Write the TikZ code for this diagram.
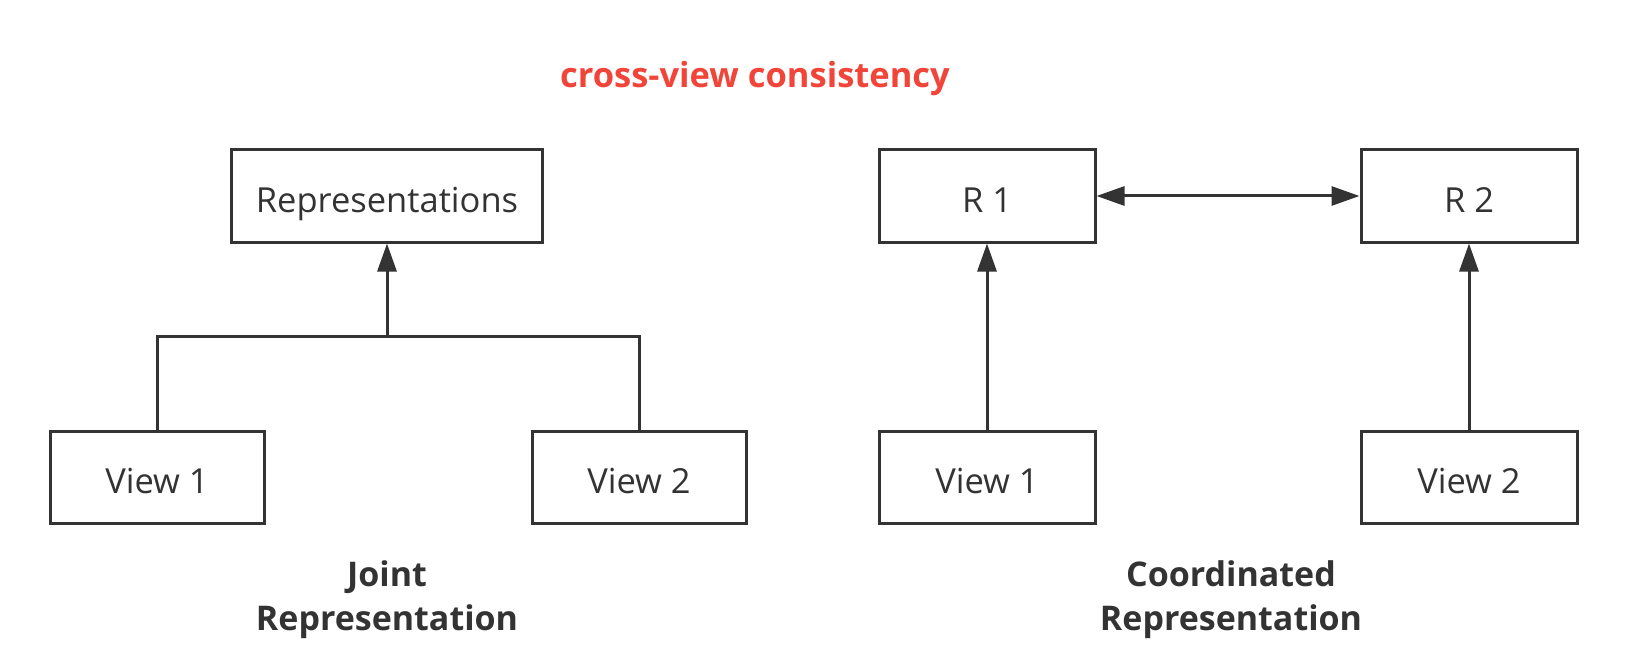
\documentclass[tikz,border=0pt]{standalone}
\usepackage{fontspec}
\setmainfont{Open Sans}
\usetikzlibrary{arrows.meta}
\definecolor{ink}{HTML}{333333}
\definecolor{titlered}{HTML}{F2453A}
\begin{document}
\begin{tikzpicture}[x=1pt,y=-1pt,
  box/.style={draw=ink, line width=3pt, inner sep=0pt, minimum height=92pt, text=ink,
    text height=33pt, text depth=0pt, font=\fontsize{34.5}{40}\selectfont},
  conn/.style={draw=ink, line width=3pt},
  arr/.style={conn, -{Triangle[length=28pt,width=19pt]}},
  darr/.style={conn, {Triangle[length=28pt,width=19pt]}-{Triangle[length=28pt,width=19pt]}},
  caption/.style={text=ink, align=center, font=\fontsize{34}{44}\selectfont\bfseries}]
\useasboundingbox (0,0) rectangle (1626,666);

\node[font=\fontsize{34.5}{40}\selectfont\bfseries, text=titlered] (title) at (755,79) {cross-view consistency};

% Joint representation
\node[box, minimum width=311pt] (rep) at (387,196) {Representations};
\node[box, minimum width=214pt] (v1l) at (157,477) {View 1};
\node[box, minimum width=214pt] (v2l) at (639,477) {View 2};
\coordinate (bus) at (387,336);
\draw[conn] (v1l.north) |- (bus) -| (v2l.north);
\draw[arr] (bus) -- (rep.south);
\node[caption] (jcap) at (387,600) {Joint\\Representation};

% Coordinated representation
\node[box, minimum width=216pt] (r1) at (987,196) {R 1};
\node[box, minimum width=216pt] (r2) at (1469,196) {R 2};
\node[box, minimum width=216pt] (v1r) at (987,477) {View 1};
\node[box, minimum width=216pt] (v2r) at (1469,477) {View 2};
\draw[arr] (v1r.north) -- (r1.south);
\draw[arr] (v2r.north) -- (r2.south);
\draw[darr] (r1.east) -- (r2.west);
\node[caption] (ccap) at (1231,600) {Coordinated\\Representation};
\end{tikzpicture}
\end{document}
